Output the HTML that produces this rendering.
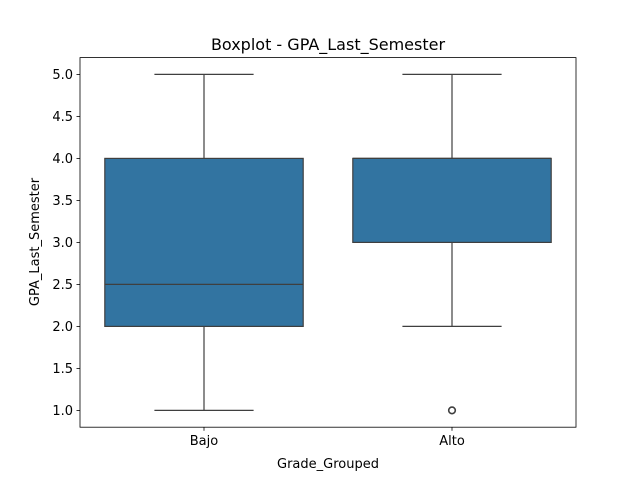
<!DOCTYPE html>
<html><head><meta charset="utf-8"><style>
body{margin:0;background:#fff}
svg{display:block;font-family:"DejaVu Sans","Liberation Sans",sans-serif}
</style></head><body>
<svg id="chart" width="640" height="480"></svg>
<script>
const categories = ["Bajo","Alto"];
const q1Values = [2.0, 3.0];
const medianValues = [2.5, 4.0];
const q3Values = [4.0, 4.0];
const whiskerLow = [1.0, 2.0];
const whiskerHigh = [5.0, 5.0];
const outliers = [[], [1.0]];
const yTicks = [1.0,1.5,2.0,2.5,3.0,3.5,4.0,4.5,5.0];

const L=80,R=576,T=57.6,B=427.2;
const yMin=0.8,yMax=5.2;
const y=v=>B-(v-yMin)/(yMax-yMin)*(B-T);
const x=i=>L+(i+0.5)*(R-L)/categories.length;
const band=(R-L)/categories.length;
const svg=document.getElementById('chart');
const NS='http://www.w3.org/2000/svg';
function mk(tag,attrs,parent){const e=document.createElementNS(NS,tag);for(const k in attrs)e.setAttribute(k,attrs[k]);(parent||svg).appendChild(e);return e;}
const lc='#3f3f3f';
categories.forEach((c,i)=>{
  const cx=x(i),bw=band*0.8,cw=bw/2;
  const g=mk('g',{});
  
  
  mk('line',{x1:cx,x2:cx,y1:y(whiskerLow[i]),y2:y(q1Values[i]),stroke:lc,'stroke-width':1.2},g);
  mk('line',{x1:cx,x2:cx,y1:y(q3Values[i]),y2:y(whiskerHigh[i]),stroke:lc,'stroke-width':1.2},g);
  mk('line',{x1:cx-cw/2,x2:cx+cw/2,y1:y(whiskerLow[i]),y2:y(whiskerLow[i]),stroke:lc,'stroke-width':1.2},g);
  mk('line',{x1:cx-cw/2,x2:cx+cw/2,y1:y(whiskerHigh[i]),y2:y(whiskerHigh[i]),stroke:lc,'stroke-width':1.2},g);
  mk('rect',{x:cx-bw/2,y:y(q3Values[i]),width:bw,height:y(q1Values[i])-y(q3Values[i]),fill:'#3274a1',stroke:lc,'stroke-width':1.2},g);
  mk('line',{x1:cx-bw/2,x2:cx+bw/2,y1:y(medianValues[i]),y2:y(medianValues[i]),stroke:lc,'stroke-width':1.2},g);
  outliers[i].forEach(o=>{
    const p=mk('circle',{cx:cx,cy:y(o),r:3.3,fill:'none',stroke:lc,'stroke-width':1.6},g);
    
    
  });
  mk('line',{x1:cx,x2:cx,y1:B,y2:B+3.5,stroke:'#000','stroke-width':0.8});
  const t=mk('text',{x:cx,y:B+18,'text-anchor':'middle','font-size':13});
  t.textContent=c;
  
  
});
yTicks.forEach(v=>{
  mk('line',{x1:L-3.5,x2:L,y1:y(v),y2:y(v),stroke:'#000','stroke-width':0.8});
  const t=mk('text',{x:L-7,y:y(v)+4.5,'text-anchor':'end','font-size':13});
  t.textContent=v.toFixed(1);
  
  
});
const frame=mk('rect',{x:L,y:T,width:R-L,height:B-T,fill:'none',stroke:'#000','stroke-width':0.8});


</script>
<svg width="640" height="480" style="position:absolute;left:0;top:0">
<text x="328" y="50" text-anchor="middle" font-size="16" font-family="DejaVu Sans, Liberation Sans, sans-serif">Boxplot - GPA_Last_Semester</text>
<text x="328" y="468" text-anchor="middle" font-size="13" font-family="DejaVu Sans, Liberation Sans, sans-serif">Grade_Grouped</text>
<text x="39" y="242" text-anchor="middle" font-size="13" transform="rotate(-90 39 242)" font-family="DejaVu Sans, Liberation Sans, sans-serif">GPA_Last_Semester</text>
</svg>
</body></html>
